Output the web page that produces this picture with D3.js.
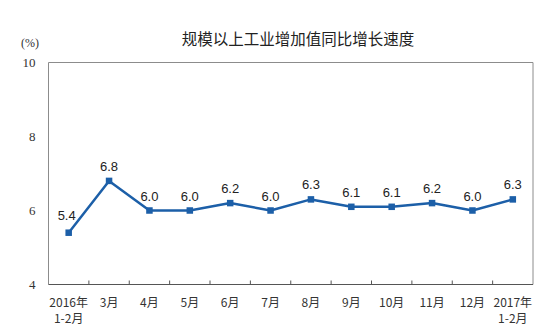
<!DOCTYPE html>
<html>
<head>
<meta charset="utf-8">
<script src="https://cdn.jsdelivr.net/npm/d3@7"></script>
<style>
  html, body { margin: 0; padding: 0; background: #fff; }
  svg { display: block; }
</style>
</head>
<body>
<svg id="chart" width="540" height="334"></svg>
<script>
// Monthly growth of industrial value added (year-on-year, %)
const categories = ["2016年\n1-2月", "3月", "4月", "5月", "6月", "7月", "8月", "9月", "10月", "11月", "12月", "2017年\n1-2月"];
const values = [5.4, 6.8, 6.0, 6.0, 6.2, 6.0, 6.3, 6.1, 6.1, 6.2, 6.0, 6.3];
const yTicks = [4, 6, 8, 10];
const titleText = "规模以上工业增加值同比增长速度";
const unitText = "(%)";

const svg = d3.select("#chart");
const plot = { left: 48.5, right: 533, top: 62.5, bottom: 284.5 };
const lineColor = "#1c5fa8";

const x = d3.scaleBand().domain(categories).range([plot.left, plot.right]);
const y = d3.scaleLinear().domain([4, 10]).range([plot.bottom, plot.top]);

// Title
svg.append("text")
  .attr("x", 298).attr("y", 45)
  .attr("text-anchor", "middle")
  .attr("font-family", "'Noto Sans CJK SC', sans-serif")
  .attr("font-size", 15.5)
  .attr("fill", "#222")
  .text(titleText);

// Unit label
svg.append("text")
  .attr("x", 30).attr("y", 47)
  .attr("text-anchor", "middle")
  .attr("font-family", "'Liberation Serif', serif")
  .attr("font-size", 12)
  .attr("fill", "#333")
  .text(unitText);

// Plot frame (left, top, right)
svg.append("path")
  .attr("d", `M${plot.left},${plot.bottom}V${plot.top}H${plot.right}V${plot.bottom}`)
  .attr("fill", "none")
  .attr("stroke", "#8c8c8c")
  .attr("stroke-width", 1);

// Y axis labels
const yAxis = d3.axisLeft(y).tickValues(yTicks).tickFormat(d3.format("d")).tickSize(0).tickPadding(13);
const gy = svg.append("g").attr("transform", `translate(${plot.left},0)`).call(yAxis);
gy.select(".domain").remove();
gy.selectAll("text")
  .attr("font-family", "'Liberation Serif', serif")
  .attr("font-size", 13)
  .attr("fill", "#333");

// X axis with inward ticks between categories
const xAxis = d3.axisBottom(x).tickSize(0).tickFormat("");
const gx = svg.append("g").attr("transform", `translate(0,${plot.bottom})`).call(xAxis);
gx.select(".domain").attr("stroke", "#555").attr("d", `M${plot.left},0H${plot.right}`);
gx.selectAll(".tick").remove();

const boundaries = categories.slice(1).map(c => x(c));
gx.selectAll("line.sep")
  .data(boundaries)
  .join("line")
  .attr("class", "sep")
  .attr("x1", d => d).attr("x2", d => d)
  .attr("y1", 0).attr("y2", -4)
  .attr("stroke", "#555");

const cx = c => x(c) + x.bandwidth() / 2;

// Category labels (second line drawn as its own text)
const labels = svg.append("g")
  .attr("font-family", "'Noto Sans CJK SC', sans-serif")
  .attr("font-size", 12)
  .attr("fill", "#333")
  .attr("text-anchor", "middle");
categories.forEach(c => {
  c.split("\n").forEach((ln, i) => {
    labels.append("text")
      .attr("x", cx(c))
      .attr("y", 307 + i * 15.5)
      .text(ln);
  });
});

const pts = categories.map((c, i) => ({ c, v: values[i] }));

// Line
svg.append("path")
  .datum(pts)
  .attr("d", d3.line().x(d => cx(d.c)).y(d => y(d.v)))
  .attr("fill", "none")
  .attr("stroke", lineColor)
  .attr("stroke-width", 2.5)
  .attr("stroke-linejoin", "round");

// Square markers
const ms = 6.5;
svg.selectAll("rect.marker")
  .data(pts)
  .join("rect")
  .attr("class", "marker")
  .attr("x", d => cx(d.c) - ms / 2)
  .attr("y", d => y(d.v) - ms / 2)
  .attr("width", ms).attr("height", ms)
  .attr("fill", lineColor);

// Value labels
svg.selectAll("text.val")
  .data(pts)
  .join("text")
  .attr("class", "val")
  .attr("x", (d, i) => cx(d.c) - (i === 0 ? 2 : 0))
  .attr("y", (d, i) => y(d.v) - (i === 0 ? 13 : 10))
  .attr("text-anchor", "middle")
  .attr("font-family", "'Liberation Sans', Arial, sans-serif")
  .attr("font-size", 13)
  .attr("fill", "#222")
  .text(d => d.v.toFixed(1));
</script>
</body>
</html>
